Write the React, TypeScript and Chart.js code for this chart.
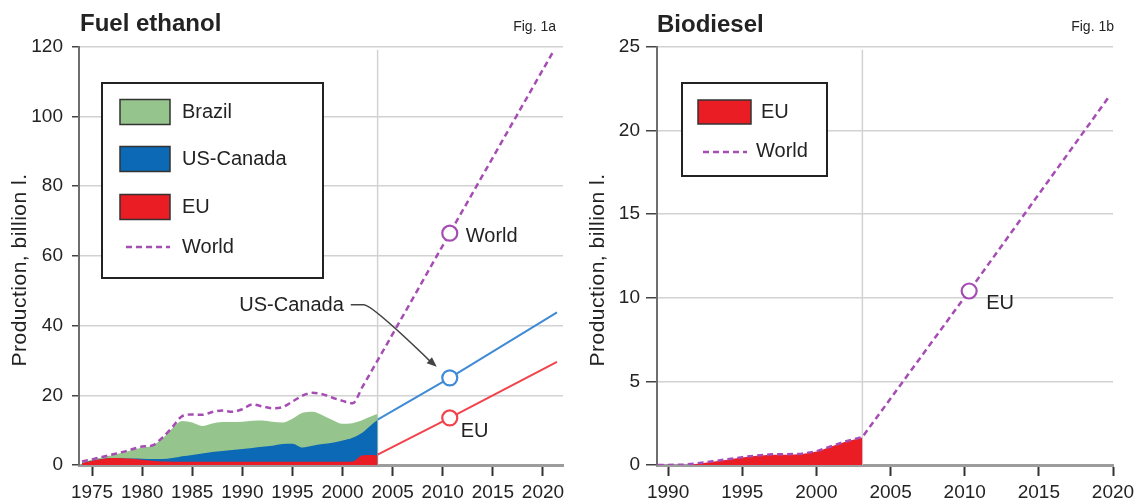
import React, { useEffect, useRef } from 'react';
import { Chart, registerables } from 'chart.js';

Chart.register(...registerables);

const FONT = '"Liberation Sans", Arial, Helvetica, sans-serif';
const TEXT = '#232323';
const GRID = '#d2d2d2';
const GREEN = '#95c48d';
const BLUE = '#0b69b5';
const RED = '#ea1d25';
const BLUE_LINE = '#3f8bd6';
const RED_LINE = '#f2434c';
const PURPLE = '#a54db3';

// ---------- Fig. 1a: Fuel ethanol (billion litres) ----------
const ethanolYears = [1974, 1975, 1976, 1977, 1978, 1979, 1980, 1981, 1982, 1983, 1984, 1985, 1986, 1987, 1988, 1989, 1990, 1991, 1992, 1993, 1994, 1995, 1996, 1997, 1998, 1999, 2000, 2001, 2002, 2003, 2003.5];
const ethanolEU = [0.5, 1.2, 1.7, 2.0, 1.95, 1.8, 1.5, 1.2, 1.0, 0.95, 0.9, 0.9, 0.9, 0.9, 0.9, 0.9, 0.9, 0.9, 0.9, 0.9, 0.9, 0.9, 0.9, 0.9, 0.9, 0.9, 0.9, 1.0, 2.8, 2.9, 2.8];
const ethanolUSCanada = [0, 0, 0, 0, 0, 0.05, 0.3, 0.5, 0.7, 1.05, 1.6, 2.0, 2.4, 2.8, 3.1, 3.4, 3.7, 4.0, 4.3, 4.6, 5.1, 5.2, 4.1, 4.6, 5.1, 5.5, 6.1, 6.8, 6.5, 8.9, 10.2];
const ethanolBrazil = [0.3, 0.3, 0.5, 0.8, 1.55, 2.45, 3.2, 3.8, 5.8, 8.5, 10.1, 9.3, 7.9, 8.2, 8.3, 8.0, 7.8, 7.8, 7.6, 6.9, 6.2, 7.2, 10.0, 9.8, 8.3, 6.5, 4.8, 4.2, 3.6, 2.3, 1.6];
const ethanolWorldYears = [1974, 1975, 1976, 1977, 1978, 1979, 1980, 1981, 1982, 1983, 1984, 1985, 1986, 1987, 1988, 1989, 1990, 1991, 1992, 1993, 1994, 1995, 1996, 1997, 1998, 1999, 2000, 2001, 2002, 2003, 2003.5, 2010.7, 2021.0];
const ethanolWorld = [1.0, 1.6, 2.3, 3.0, 3.7, 4.5, 5.3, 5.6, 7.8, 10.8, 14.0, 14.5, 14.4, 15.2, 15.6, 15.3, 16.0, 17.4, 16.8, 16.3, 16.6, 18.2, 19.9, 20.7, 20.3, 19.3, 18.4, 17.7, 22.5, 27.5, 30.0, 66.5, 118.5];
const ethanolProjYears = [2003.5, 2010.7, 2021.4];
const ethanolUSCanadaProj = [13.0, 25.0, 43.8];
const ethanolEUProj = [3.0, 13.5, 29.6];
const ethanolMarkYear = 2010.7;
const ethanolDividerYear = 2003.5;
const ethanolLegend = ['Brazil', 'US-Canada', 'EU', 'World'];

// ---------- Fig. 1b: Biodiesel (billion litres) ----------
const biodieselYears = [1989.3, 1990, 1991, 1992, 1993, 1994, 1995, 1996, 1997, 1998, 1999, 2000, 2001, 2002, 2003.1];
const biodieselEU = [0, 0, 0, 0.08, 0.2, 0.32, 0.45, 0.55, 0.62, 0.62, 0.65, 0.8, 1.1, 1.4, 1.65];
const biodieselWorldYears = [1989.3, 1990, 1991, 1992, 1993, 1994, 1995, 1996, 1997, 1998, 1999, 2000, 2001, 2002, 2003.1, 2010.3, 2019.8];
const biodieselWorld = [0, 0, 0.02, 0.1, 0.22, 0.34, 0.47, 0.57, 0.64, 0.64, 0.67, 0.82, 1.12, 1.42, 1.67, 10.4, 22.1];
const biodieselMarkYear = 2010.3;
const biodieselDividerYear = 2003.1;
const biodieselLegend = ['EU', 'World'];

const pts = (xs: number[], ys: number[]) => xs.map((x, i) => ({ x, y: ys[i] }));
const sumArr = (...arrs: number[][]) => arrs[0].map((_, i) => arrs.reduce((s, a) => s + a[i], 0));

function drawText(ctx: CanvasRenderingContext2D, t: string, x: number, y: number, size: number, align: CanvasTextAlign = 'left', bold = false) {
  ctx.save();
  ctx.font = `${bold ? 'bold ' : ''}${size}px ${FONT}`;
  ctx.fillStyle = TEXT;
  ctx.textAlign = align;
  ctx.textBaseline = 'middle';
  ctx.fillText(t, x, y);
  ctx.restore();
}

function drawYTitle(ctx: CanvasRenderingContext2D, t: string, x: number, y: number) {
  ctx.save();
  ctx.translate(x, y);
  ctx.rotate(-Math.PI / 2);
  ctx.font = `21px ${FONT}`;
  (ctx as any).letterSpacing = '0.5px';
  ctx.fillStyle = TEXT;
  ctx.textAlign = 'center';
  ctx.textBaseline = 'middle';
  ctx.fillText(t, 0, 0);
  ctx.restore();
}

function drawBox(ctx: CanvasRenderingContext2D, x: number, y: number, w: number, h: number) {
  ctx.save();
  ctx.fillStyle = '#ffffff';
  ctx.fillRect(x, y, w, h);
  ctx.strokeStyle = '#222';
  ctx.lineWidth = 2;
  ctx.strokeRect(x, y, w, h);
  ctx.restore();
}

function drawSwatch(ctx: CanvasRenderingContext2D, x: number, y: number, w: number, h: number, color: string) {
  ctx.save();
  ctx.fillStyle = color;
  ctx.fillRect(x, y, w, h);
  ctx.strokeStyle = '#333';
  ctx.lineWidth = 1.5;
  ctx.strokeRect(x, y, w, h);
  ctx.restore();
}

function drawDash(ctx: CanvasRenderingContext2D, x1: number, x2: number, y: number) {
  ctx.save();
  ctx.strokeStyle = PURPLE;
  ctx.lineWidth = 2.5;
  ctx.setLineDash([6, 4]);
  ctx.beginPath();
  ctx.moveTo(x1, y);
  ctx.lineTo(x2, y);
  ctx.stroke();
  ctx.restore();
}

function drawDivider(chart: any, year: number) {
  const { ctx, chartArea: a, scales } = chart;
  const px = scales.x.getPixelForValue(year);
  ctx.save();
  ctx.strokeStyle = GRID;
  ctx.lineWidth = 1.5;
  ctx.beginPath();
  ctx.moveTo(px, a.top + 3);
  ctx.lineTo(px, a.bottom);
  ctx.stroke();
  ctx.restore();
}

const ethanolOverlay = {
  id: 'ethanolOverlay',
  beforeDatasetsDraw(chart: any) {
    drawDivider(chart, ethanolDividerYear);
  },
  afterDraw(chart: any) {
    const { ctx, chartArea: a, scales } = chart;
    const { x, y } = scales;
    drawText(ctx, 'Fuel ethanol', a.left + 1, 24, 24, 'left', true);
    drawText(ctx, 'Fig. 1a', a.right - 7, 27, 14, 'right');
    drawYTitle(ctx, 'Production, billion l.', 20, 270);

    // legend
    const bx = a.left + 23;
    drawBox(ctx, bx, 83, 221, 195);
    const rows = [112, 159, 207, 247];
    const cols = [GREEN, BLUE, RED];
    for (let i = 0; i < 3; i++) {
      drawSwatch(ctx, bx + 18, rows[i] - 12.5, 50, 25, cols[i]);
      drawText(ctx, ethanolLegend[i], bx + 80, rows[i], 20);
    }
    drawDash(ctx, bx + 24, bx + 68, rows[3]);
    drawText(ctx, ethanolLegend[3], bx + 80, rows[3], 20);

    // annotations
    const cx = x.getPixelForValue(ethanolMarkYear);
    const wy = y.getPixelForValue(ethanolWorld[ethanolWorldYears.indexOf(ethanolMarkYear)]);
    drawText(ctx, 'World', cx + 16, wy + 3, 20);
    const uy = y.getPixelForValue(ethanolUSCanadaProj[1]);
    drawText(ctx, 'US-Canada', cx - 106, uy - 72, 20, 'right');
    const ey = y.getPixelForValue(ethanolEUProj[1]);
    drawText(ctx, 'EU', cx + 11, ey + 14, 20);

    // arrow
    const sx = cx - 99, sy = uy - 73;
    const mx = cx - 86;
    const ex = cx - 13, ey2 = uy - 11;
    ctx.save();
    ctx.strokeStyle = '#444';
    ctx.fillStyle = '#444';
    ctx.lineWidth = 1.5;
    ctx.beginPath();
    ctx.moveTo(sx, sy);
    ctx.lineTo(mx, sy);
    ctx.quadraticCurveTo(mx + 8, sy, ex - 6, ey2 - 5);
    ctx.stroke();
    const ang = Math.atan2(ey2 - (sy + 10), ex - (mx + 14));
    ctx.beginPath();
    ctx.moveTo(ex, ey2);
    ctx.lineTo(ex - 10 * Math.cos(ang) + 4 * Math.sin(ang), ey2 - 10 * Math.sin(ang) - 4 * Math.cos(ang));
    ctx.lineTo(ex - 10 * Math.cos(ang) - 4 * Math.sin(ang), ey2 - 10 * Math.sin(ang) + 4 * Math.cos(ang));
    ctx.closePath();
    ctx.fill();
    ctx.restore();
  },
};

const biodieselOverlay = {
  id: 'biodieselOverlay',
  beforeDatasetsDraw(chart: any) {
    drawDivider(chart, biodieselDividerYear);
  },
  afterDraw(chart: any) {
    const { ctx, chartArea: a, scales } = chart;
    const { x, y } = scales;
    drawText(ctx, 'Biodiesel', a.left, 25, 24, 'left', true);
    drawText(ctx, 'Fig. 1b', a.right + 1, 27, 14, 'right');
    drawYTitle(ctx, 'Production, billion l.', 28, 270);

    const bx = a.left + 25;
    drawBox(ctx, bx, 83, 145, 93);
    drawSwatch(ctx, bx + 16, 100, 53, 24, RED);
    drawText(ctx, biodieselLegend[0], bx + 79, 112, 20);
    drawDash(ctx, bx + 21, bx + 65, 152);
    drawText(ctx, biodieselLegend[1], bx + 74, 151, 20);

    const cx = x.getPixelForValue(biodieselMarkYear);
    const cy = y.getPixelForValue(biodieselWorld[biodieselWorldYears.indexOf(biodieselMarkYear)]);
    drawText(ctx, 'EU', cx + 17, cy + 12, 20);
  },
};

const tickFont = { family: FONT, size: 19 };

function xScale(min: number, max: number, height: number) {
  return {
    type: 'linear' as const,
    min,
    max,
    afterFit: (s: any) => { s.height = height; },
    ticks: {
      stepSize: 5,
      includeBounds: false,
      autoSkip: false,
      maxRotation: 0,
      padding: 5,
      font: tickFont,
      color: TEXT,
      callback: (v: any) => String(v),
    },
    grid: { drawOnChartArea: false, drawTicks: true, tickLength: 11, tickColor: '#333', tickWidth: 2 },
    border: { display: true, color: '#9c9c9c', width: 3 },
  };
}

function yScale(max: number, step: number, width: number, tickLen: number, pad: number) {
  return {
    min: 0,
    max,
    afterFit: (s: any) => { s.width = width; },
    ticks: { stepSize: step, padding: pad, font: tickFont, color: TEXT },
    grid: { color: GRID, lineWidth: 1.5, drawTicks: true, tickLength: tickLen, tickColor: '#444', tickWidth: 1.5 },
    border: { display: true, color: '#6e6e6e', width: 2 },
  };
}

function markRadius(years: number[], mark: number) {
  return (c: any) => (years[c.dataIndex] === mark ? 7.5 : 0);
}

function ethanolConfig(): any {
  const redTop = ethanolEU;
  const blueTop = sumArr(ethanolEU, ethanolUSCanada);
  const greenTop = sumArr(ethanolEU, ethanolUSCanada, ethanolBrazil);
  const area = (data: number[], color: string) => ({
    data: pts(ethanolYears, data),
    backgroundColor: color,
    borderWidth: 0,
    pointRadius: 0,
    fill: 'origin',
    cubicInterpolationMode: 'monotone',
  });
  const proj = (data: number[], color: string) => ({
    data: pts(ethanolProjYears, data),
    borderColor: color,
    borderWidth: 2,
    fill: false,
    pointRadius: markRadius(ethanolProjYears, ethanolMarkYear),
    pointBackgroundColor: '#ffffff',
    pointBorderColor: color,
    pointBorderWidth: 2.2,
  });
  return {
    type: 'line',
    data: {
      datasets: [
        {
          data: pts(ethanolWorldYears, ethanolWorld),
          borderColor: PURPLE,
          borderWidth: 2.5,
          borderDash: [6, 4],
          fill: false,
          cubicInterpolationMode: 'monotone',
          pointRadius: markRadius(ethanolWorldYears, ethanolMarkYear),
          pointBackgroundColor: '#ffffff',
          pointBorderColor: PURPLE,
          pointBorderWidth: 2.2,
        },
        proj(ethanolUSCanadaProj, BLUE_LINE),
        proj(ethanolEUProj, RED_LINE),
        area(redTop, RED),
        area(blueTop, BLUE),
        area(greenTop, GREEN),
      ],
    },
    options: {
      responsive: false,
      animation: false,
      events: [],
      layout: { padding: { left: 0, top: 46.7, right: 7, bottom: 0 } },
      plugins: { legend: { display: false }, tooltip: { enabled: false }, title: { display: false } },
      scales: {
        x: xScale(1973.7, 2022, 39),
        y: yScale(120, 20, 79, 7, 9),
      },
    },
    plugins: [ethanolOverlay],
  };
}

function biodieselConfig(): any {
  return {
    type: 'line',
    data: {
      datasets: [
        {
          data: pts(biodieselWorldYears, biodieselWorld),
          borderColor: PURPLE,
          borderWidth: 2.5,
          borderDash: [6, 4],
          fill: false,
          tension: 0,
          pointRadius: markRadius(biodieselWorldYears, biodieselMarkYear),
          pointBackgroundColor: '#ffffff',
          pointBorderColor: PURPLE,
          pointBorderWidth: 2.2,
        },
        {
          data: pts(biodieselYears, biodieselEU),
          backgroundColor: RED,
          borderWidth: 0,
          pointRadius: 0,
          fill: 'origin',
          cubicInterpolationMode: 'monotone',
        },
      ],
    },
    options: {
      responsive: false,
      animation: false,
      events: [],
      layout: { padding: { left: 0, top: 46.7, right: 30, bottom: 0 } },
      plugins: { legend: { display: false }, tooltip: { enabled: false }, title: { display: false } },
      scales: {
        x: xScale(1989.25, 2020, 39),
        y: yScale(25, 5, 87, 11, 6),
      },
    },
    plugins: [biodieselOverlay],
  };
}

function ChartCanvas({ width, height, left, make }: { width: number; height: number; left: number; make: () => any }) {
  const ref = useRef<HTMLCanvasElement | null>(null);
  useEffect(() => {
    if (!ref.current) return;
    const chart = new Chart(ref.current, make());
    return () => chart.destroy();
  }, []);
  return (
    <canvas
      ref={ref}
      width={width}
      height={height}
      style={{ position: 'absolute', left, top: 0, width, height, display: 'block' }}
    />
  );
}

export default function App() {
  return (
    <div style={{ position: 'fixed', left: 0, top: 0, width: 1143, height: 504, background: '#ffffff', overflow: 'hidden' }}>
      <ChartCanvas width={570} height={504} left={0} make={ethanolConfig} />
      <ChartCanvas width={573} height={504} left={570} make={biodieselConfig} />
    </div>
  );
}
